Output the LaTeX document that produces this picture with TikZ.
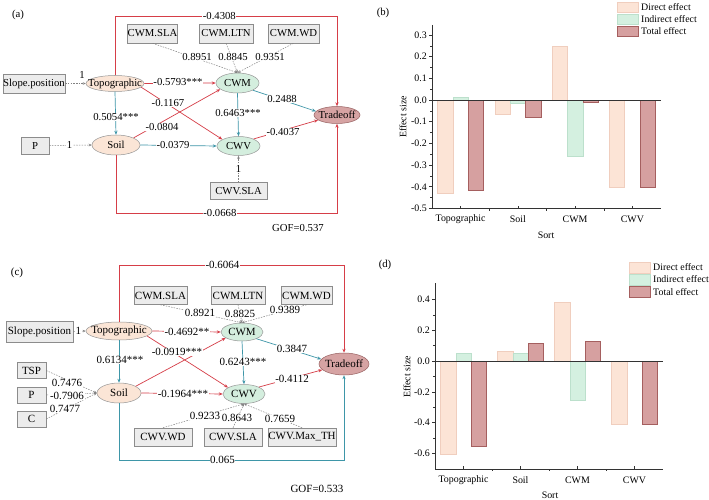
\documentclass[tikz,border=0pt]{standalone}
\usepackage{fontspec}
\setmainfont{Liberation Serif}
\usetikzlibrary{shapes.geometric,arrows.meta}
\definecolor{myred}{RGB}{214,62,72}
\definecolor{myteal}{RGB}{62,150,168}
\definecolor{peachfill}{RGB}{251,229,214}
\definecolor{mintfill}{RGB}{212,238,222}
\definecolor{tradefill}{RGB}{214,163,163}
\definecolor{tradedraw}{RGB}{150,95,95}
\definecolor{ellgray}{RGB}{150,150,150}
\definecolor{boxfill}{RGB}{236,236,236}
\definecolor{boxdraw}{RGB}{140,140,140}
\definecolor{dashgray}{RGB}{130,130,130}
\definecolor{dfill}{RGB}{252,228,214}
\definecolor{ddraw}{RGB}{240,206,190}
\definecolor{ifill}{RGB}{212,240,224}
\definecolor{idraw}{RGB}{188,224,204}
\definecolor{tfill}{RGB}{214,160,160}
\definecolor{tdraw}{RGB}{165,95,95}
\newcommand\myfsA{\fontsize{10.7}{12.5}\selectfont}
\newcommand\myfsC{\fontsize{11}{13}\selectfont}
\newcommand\myfsB{\fontsize{9.9}{11.5}\selectfont}
\begin{document}
\begin{tikzpicture}[x=1pt,y=-1pt,
  lv/.style={ellipse, draw=ellgray, line width=0.5pt, inner sep=0pt},
  peach/.style={lv, fill=peachfill},
  mint/.style={lv, fill=mintfill},
  trd/.style={lv, fill=tradefill, draw=tradedraw},
  mv/.style={rectangle, draw=boxdraw, fill=boxfill, line width=0.5pt, inner sep=0pt},
  rl/.style={draw=myred, line width=0.7pt, -{Stealth[length=4pt,width=3.2pt]}},
  tl/.style={draw=myteal, line width=0.7pt, -{Stealth[length=4pt,width=3.2pt]}},
  dl/.style={draw=dashgray, line width=0.5pt, dash pattern=on 1.5pt off 1.2pt, -{Stealth[length=3pt,width=2.6pt]}},
  lb/.style={fill=white, inner sep=0.6pt},
  lbn/.style={inner sep=0.6pt},
  dbar/.style={fill=dfill, draw=ddraw, line width=0.5pt},
  ibar/.style={fill=ifill, draw=idraw, line width=0.5pt},
  tbar/.style={fill=tfill, draw=tdraw, line width=0.5pt},
  axl/.style={draw=black!80, line width=0.6pt},
  tk/.style={font=\myfsB, inner sep=1pt}
]
\useasboundingbox[fill=white] (0,0) rectangle (709,500);

%================ (a) ================
\begin{scope}[every node/.append style={font=\myfsA}]
\node[lbn] (labA) at (18,15) {(a)};
\node[mv, minimum width=62pt, minimum height=19pt] (slopeA) at (34,83.5) {Slope.position};
\node[peach, minimum width=58pt, minimum height=16pt] (topoA) at (115,83.5) {\makebox[0pt]{Topographic}};
\node[mv, minimum width=47pt, minimum height=19pt] (cwmslaA) at (152.5,33.5) {CWM.SLA};
\node[mv, minimum width=54pt, minimum height=19pt] (cwmltnA) at (226,33.5) {CWM.LTN};
\node[mv, minimum width=51pt, minimum height=19pt] (cwmwdA) at (293.5,33.5) {CWM.WD};
\node[mint, minimum width=43pt, minimum height=20pt] (cwmA) at (237.5,83) {\makebox[0pt]{CWM}};
\node[trd, minimum width=46pt, minimum height=17pt] (tradeA) at (337,115) {\makebox[0pt]{Tradeoff}};
\node[peach, minimum width=48pt, minimum height=20pt] (soilA) at (116,145) {\makebox[0pt]{Soil}};
\node[mint, minimum width=43pt, minimum height=19pt] (cwvA) at (238.5,146) {\makebox[0pt]{CWV}};
\node[mv, minimum width=28pt, minimum height=17pt] (pA) at (35,145.5) {P};
\node[mv, minimum width=57pt, minimum height=17pt] (cwvslaA) at (238.5,191) {CWV.SLA};

\coordinate (ytA) at (0,16);
\coordinate (ybA) at (0,213);
% loops
\draw[rl] (topoA.north) -- (topoA.north |- ytA) -- node[lb,pos=0.47] (l01) {-0.4308} (tradeA.north |- ytA) -- (tradeA.north);
\draw[rl] (soilA.south) -- (soilA.south |- ybA) -- node[lb,pos=0.47] (l02) {-0.0668} (tradeA.south |- ybA) -- (tradeA.south);
% indicators
\draw[dl] (slopeA.east) -- (topoA.west);
\node[lbn] (l03) at (82,75) {1};
\draw[dl] (pA.east) -- node[lb,pos=0.48] (l04) {1} (soilA.west);
\draw[dl] (cwmslaA.south) -- (cwmA.north);
\draw[dl] (cwmltnA.south) -- (cwmA.north);
\draw[dl] (cwmwdA.south) -- (cwmA.north);
\node[lb] (l05) at (197,57) {0.8951};
\node[lb] (l06) at (233,57) {0.8845};
\node[lb] (l07) at (270,57) {0.9351};
\draw[dl] (cwvslaA.north) -- node[lb] (l08) {1} (cwvA.south);
% structural
\draw[tl] (topoA.south) -- (soilA.north);
\node[lb] (l09) at (116,117) {0.5054***};
\draw[rl] (topoA.east) -- (cwmA.west);
\node[lb] (l10) at (178,82) {-0.5793***};
\draw[rl] (topoA.-8) -- (cwvA.158);
\draw[rl] (soilA.22) -- (cwmA.200);
\node[lb] (l11) at (168,103) {-0.1167};
\node[lb] (l12) at (162,127) {-0.0804};
\draw[tl] (soilA.east) -- (cwvA.west);
\node[lb] (l13) at (173,145) {-0.0379};
\draw[tl] (cwmA.south) -- (cwvA.north);
\node[lb] (l14) at (238,113) {0.6463***};
\draw[tl] (cwmA.-25) -- (tradeA.170);
\node[lb] (l15) at (282,99) {0.2488};
\draw[rl] (cwvA.25) -- (tradeA.195);
\node[lb] (l16) at (283,132) {-0.4037};
\node[lbn] (gofA) at (298,228) {GOF=0.537};
\end{scope}

%================ (c) ================
\begin{scope}[every node/.append style={font=\myfsC}]
\node[lbn] (labC) at (17,273) {(c)};
\node[mv, minimum width=67pt, minimum height=21pt] (slopeC) at (39.5,331.5) {Slope.position};
\node[peach, minimum width=66pt, minimum height=18pt] (topoC) at (119,331) {\makebox[0pt]{Topographic}};
\node[mv, minimum width=53pt, minimum height=18pt] (cwmslaC) at (160.5,295.5) {CWM.SLA};
\node[mv, minimum width=54pt, minimum height=18pt] (cwmltnC) at (238,295.5) {CWM.LTN};
\node[mv, minimum width=51pt, minimum height=18pt] (cwmwdC) at (306.5,295.5) {CWM.WD};
\node[mint, minimum width=42pt, minimum height=18pt] (cwmC) at (242,332) {\makebox[0pt]{CWM}};
\node[trd, minimum width=50pt, minimum height=22pt] (tradeC) at (344,364) {\makebox[0pt]{Tradeoff}};
\node[peach, minimum width=44pt, minimum height=20pt] (soilC) at (119,393) {\makebox[0pt]{Soil}};
\node[mint, minimum width=42pt, minimum height=19pt] (cwvC) at (244,394) {\makebox[0pt]{CWV}};
\node[mv, minimum width=29pt, minimum height=16pt] (tspC) at (31.5,370.5) {TSP};
\node[mv, minimum width=29pt, minimum height=16pt] (pC) at (31.5,395) {P};
\node[mv, minimum width=29pt, minimum height=16pt] (cC) at (31.5,419) {C};
\node[mv, minimum width=58pt, minimum height=18pt] (cwvwdC) at (163,437) {CWV.WD};
\node[mv, minimum width=58pt, minimum height=18pt] (cwvslaC) at (233,437) {CWV.SLA};
\node[mv, minimum width=68pt, minimum height=18pt] (cwvmaxC) at (302,437) {CWV.Max\_TH};

\coordinate (ytC) at (0,265);
\coordinate (ybC) at (0,460);
\draw[rl] (topoC.north) -- (topoC.north |- ytC) -- node[lb,pos=0.46] (m01) {-0.6064} (tradeC.north |- ytC) -- (tradeC.north);
\draw[tl] (soilC.south) -- (soilC.south |- ybC) -- node[lb,pos=0.46] (m02) {0.065} (tradeC.south |- ybC) -- (tradeC.south);
% indicators
\draw[dl] (slopeC.east) -- node[lb,pos=0.4] (m03) {1} (topoC.west);
\draw[dl] (tspC.east) -- (soilC.west);
\draw[dl] (pC.east) -- (soilC.west);
\draw[dl] (cC.east) -- (soilC.west);
\node[lb] (m04) at (67,383) {0.7476};
\node[lb] (m05) at (67,395.5) {-0.7906};
\node[lb] (m06) at (65,409) {0.7477};
\draw[dl] (cwmslaC.south) -- (cwmC.north);
\draw[dl] (cwmltnC.south) -- (cwmC.north);
\draw[dl] (cwmwdC.south) -- (cwmC.north);
\node[lb] (m07) at (200,313) {0.8921};
\node[lb] (m08) at (240,314) {0.8825};
\node[lb] (m09) at (285,310) {0.9389};
\draw[dl] (cwvwdC.north) -- (cwvC.south);
\draw[dl] (cwvslaC.north) -- (cwvC.south);
\draw[dl] (cwvmaxC.north) -- (cwvC.south);
\node[lb] (m10) at (205,416) {0.9233};
\node[lb] (m11) at (237,418) {0.8643};
\node[lb] (m12) at (280,419) {0.7659};
% structural
\draw[tl] (topoC.south) -- (soilC.north);
\node[lb] (m13) at (120,360) {0.6134***};
\draw[rl] (topoC.east) -- (cwmC.west);
\node[lb] (m14) at (187,332) {-0.4692**};
\draw[rl] (topoC.-10) -- (cwvC.158);
\draw[rl] (soilC.22) -- (cwmC.200);
\node[lb] (m15) at (177,352) {-0.0919***};
\draw[rl] (soilC.east) -- (cwvC.west);
\node[lb] (m16) at (183,394) {-0.1964***};
\draw[tl] (cwmC.south) -- (cwvC.north);
\node[lb] (m17) at (243,362) {0.6243***};
\draw[tl] (cwmC.-25) -- (tradeC.168);
\node[lb] (m18) at (292,349) {0.3847};
\draw[rl] (cwvC.25) -- (tradeC.195);
\node[lb] (m19) at (292,379) {-0.4112};
\node[lbn] (gofC) at (317,489) {GOF=0.533};
\end{scope}

%================ (b) ================
\node[lbn, font=\myfsA] (labB) at (383,13) {(b)};
\begin{scope}[shift={(0,100)}, y=217pt]
\draw[dbar] (437.6,0) rectangle (452.9,-0.4308);
\draw[ibar] (452.9,0) rectangle (468.3,0.0131);
\draw[tbar] (468.3,0) rectangle (483.6,-0.4177);
\draw[dbar] (494.9,0) rectangle (510.2,-0.0668);
\draw[ibar] (510.2,0) rectangle (525.6,-0.0143);
\draw[tbar] (525.6,0) rectangle (540.9,-0.0811);
\draw[dbar] (552.1,0) rectangle (567.4,0.2488);
\draw[ibar] (567.4,0) rectangle (582.8,-0.2609);
\draw[tbar] (582.8,0) rectangle (598.1,-0.0121);
\draw[dbar] (609.4,0) rectangle (624.7,-0.4037);
\draw[tbar] (640.1,0) rectangle (655.4,-0.4037);
\draw[axl] (432,0.346) -- (432,-0.5) -- (661,-0.5);
\draw[axl] (432,0) -- (661,0);
\foreach \v/\t in {-0.5/-0.5,-0.4/-0.4,-0.3/-0.3,-0.2/-0.2,-0.1/-0.1,0/0.0,0.1/0.1,0.2/0.2,0.3/0.3}{
  \draw[axl] (432,\v) -- ++(-3pt,0pt);
  \node[tk, anchor=east] at (428,\v) {\t};
}
\foreach \v in {-0.45,-0.35,-0.25,-0.15,-0.05,0.05,0.15,0.25}{
  \draw[axl, line width=0.4pt] (432,\v) -- ++(-1.8pt,0pt);
}
\foreach \c in {460.6,517.9,575.1,632.4}{
  \draw[axl] (\c,-0.5) -- ++(0pt,3pt);
}
\foreach \c in {489.25,546.5,603.75}{
  \draw[axl, line width=0.4pt] (\c,-0.5) -- ++(0pt,-2pt);
}
\end{scope}
\node[tk] (cb1) at (460.6,219) {Topographic};
\node[tk] (cb2) at (517.9,219) {Soil};
\node[tk] (cb3) at (575.1,219) {CWM};
\node[tk] (cb4) at (632.4,219) {CWV};
\node[tk] (sortB) at (546,235) {Sort};
\node[tk, rotate=90] (esB) at (403,117) {Effect size};
\draw[dbar] (617,2) rectangle (638,12);
\draw[ibar] (617,14) rectangle (638,24);
\draw[tbar] (617,26) rectangle (638,36);
\node[tk, anchor=west] (lgB1) at (640,7) {Direct effect};
\node[tk, anchor=west] (lgB2) at (640,19) {Indirect effect};
\node[tk, anchor=west] (lgB3) at (640,31) {Total effect};

%================ (d) ================
\node[lbn, font=\myfsA] (labD) at (385,265) {(d)};
\begin{scope}[shift={(0,361)}, y=154pt]
\draw[dbar] (440.5,0) rectangle (455.8,-0.6064);
\draw[ibar] (455.8,0) rectangle (471.2,0.05);
\draw[tbar] (471.2,0) rectangle (486.5,-0.556);
\draw[dbar] (497.5,0) rectangle (512.8,0.065);
\draw[ibar] (512.8,0) rectangle (528.2,0.05);
\draw[tbar] (528.2,0) rectangle (543.5,0.115);
\draw[dbar] (554.5,0) rectangle (569.8,0.3847);
\draw[ibar] (569.8,0) rectangle (585.2,-0.2567);
\draw[tbar] (585.2,0) rectangle (600.5,0.128);
\draw[dbar] (611.5,0) rectangle (626.8,-0.4112);
\draw[tbar] (642.2,0) rectangle (657.5,-0.4112);
\draw[axl] (435,0.506) -- (435,-0.704) -- (663,-0.704);
\draw[axl] (435,0) -- (663,0);
\foreach \v/\t in {-0.6/-0.6,-0.4/-0.4,-0.2/-0.2,0/0.0,0.2/0.2,0.4/0.4}{
  \draw[axl] (435,\v) -- ++(-3pt,0pt);
  \node[tk, anchor=east] at (431,\v) {\t};
}
\foreach \v in {-0.5,-0.3,-0.1,0.1,0.3}{
  \draw[axl, line width=0.4pt] (435,\v) -- ++(-1.8pt,0pt);
}
\foreach \c in {463.5,520.5,577.5,634.5}{
  \draw[axl] (\c,-0.704) -- ++(0pt,3pt);
}
\foreach \c in {492,549,606}{
  \draw[axl, line width=0.4pt] (\c,-0.704) -- ++(0pt,-2pt);
}
\end{scope}
\node[tk] (cd1) at (463.5,480) {Topographic};
\node[tk] (cd2) at (520.5,480) {Soil};
\node[tk] (cd3) at (577.5,480) {CWM};
\node[tk] (cd4) at (634.5,480) {CWV};
\node[tk] (sortD) at (550,495) {Sort};
\node[tk, rotate=90] (esD) at (407,377) {Effect size};
\draw[dbar] (629,262) rectangle (650,273);
\draw[ibar] (629,274) rectangle (650,285);
\draw[tbar] (629,286) rectangle (650,297);
\node[tk, anchor=west] (lgD1) at (652,267) {Direct effect};
\node[tk, anchor=west] (lgD2) at (652,279) {Indirect effect};
\node[tk, anchor=west] (lgD3) at (652,292) {Total effect};
\end{tikzpicture}
\end{document}
